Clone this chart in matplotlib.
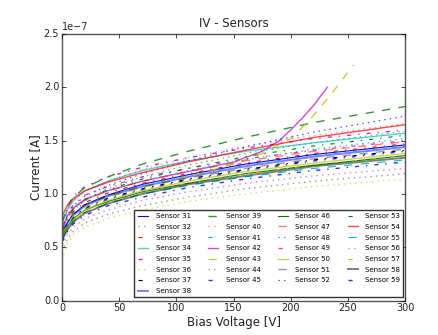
import matplotlib
matplotlib.use("Agg")
import matplotlib.pyplot as plt

plt.style.use('classic')

# bias voltages at which the currents were read
volts = [0, 5, 10, 20, 40, 70, 110, 160, 220, 300]
volts_42 = [0, 5, 10, 20, 40, 70, 110, 150, 175, 190, 200, 210, 220, 232]
volts_43 = [0, 5, 10, 20, 40, 70, 110, 150, 175, 200, 217, 235, 255]

# leakage currents, units of 1e-7 A
s31 = [0.63, 0.74, 0.81, 0.90, 0.99, 1.09, 1.18, 1.28, 1.37, 1.46]
s32 = [0.66, 0.78, 0.86, 0.95, 1.05, 1.16, 1.27, 1.38, 1.48, 1.59]
s33 = [0.66, 0.77, 0.84, 0.92, 1.01, 1.10, 1.19, 1.29, 1.38, 1.47]
s34 = [0.72, 0.86, 0.94, 1.03, 1.12, 1.22, 1.31, 1.40, 1.48, 1.57]
s35 = [0.74, 0.89, 0.98, 1.07, 1.16, 1.25, 1.34, 1.43, 1.52, 1.60]
s36 = [0.38, 0.54, 0.62, 0.69, 0.77, 0.85, 0.93, 1.00, 1.07, 1.14]
s37 = [0.60, 0.71, 0.78, 0.87, 0.96, 1.05, 1.14, 1.23, 1.32, 1.41]
s38 = [0.62, 0.73, 0.80, 0.89, 0.98, 1.07, 1.16, 1.26, 1.35, 1.44]
s39 = [0.74, 0.88, 0.97, 1.06, 1.16, 1.28, 1.40, 1.53, 1.67, 1.82]
s40 = [0.72, 0.86, 0.94, 1.03, 1.12, 1.23, 1.34, 1.45, 1.55, 1.66]
s41 = [0.64, 0.75, 0.82, 0.90, 0.99, 1.08, 1.17, 1.27, 1.36, 1.45]
s42 = [0.68, 0.80, 0.87, 0.95, 1.03, 1.12, 1.21, 1.30, 1.40, 1.50, 1.60, 1.71, 1.83, 2.00]
s43 = [0.62, 0.73, 0.80, 0.88, 0.97, 1.06, 1.16, 1.28, 1.38, 1.52, 1.70, 1.93, 2.21]
s44 = [0.46, 0.58, 0.65, 0.73, 0.81, 0.89, 0.97, 1.05, 1.12, 1.19]
s45 = [0.58, 0.69, 0.77, 0.86, 0.95, 1.04, 1.13, 1.22, 1.31, 1.40]
s46 = [0.60, 0.70, 0.77, 0.85, 0.93, 1.02, 1.10, 1.19, 1.27, 1.36]
s47 = [0.67, 0.78, 0.86, 0.94, 1.03, 1.12, 1.21, 1.31, 1.40, 1.49]
s48 = [0.66, 0.78, 0.85, 0.94, 1.03, 1.12, 1.22, 1.32, 1.42, 1.52]
s49 = [0.70, 0.83, 0.90, 0.99, 1.07, 1.16, 1.24, 1.33, 1.41, 1.50]
s50 = [0.58, 0.69, 0.76, 0.85, 0.94, 1.03, 1.12, 1.21, 1.29, 1.38]
s51 = [0.64, 0.75, 0.82, 0.90, 0.98, 1.07, 1.15, 1.24, 1.33, 1.42]
s52 = [0.68, 0.81, 0.89, 0.98, 1.08, 1.19, 1.31, 1.44, 1.58, 1.73]
s53 = [0.66, 0.78, 0.86, 0.95, 1.04, 1.14, 1.24, 1.35, 1.45, 1.55]
s54 = [0.79, 0.90, 0.96, 1.03, 1.11, 1.20, 1.30, 1.41, 1.53, 1.65]
s55 = [0.58, 0.68, 0.75, 0.83, 0.91, 1.00, 1.08, 1.16, 1.24, 1.32]
s56 = [0.52, 0.62, 0.69, 0.77, 0.85, 0.94, 1.02, 1.10, 1.17, 1.24]
s57 = [0.56, 0.67, 0.74, 0.83, 0.92, 1.01, 1.10, 1.19, 1.27, 1.36]
s58 = [0.57, 0.67, 0.74, 0.82, 0.91, 1.00, 1.09, 1.17, 1.26, 1.34]
s59 = [0.55, 0.65, 0.72, 0.80, 0.89, 0.97, 1.06, 1.14, 1.22, 1.30]

sensors = list(range(31, 60))
currents = [s31, s32, s33, s34, s35, s36, s37, s38, s39, s40, s41, s42, s43, s44, s45,
            s46, s47, s48, s49, s50, s51, s52, s53, s54, s55, s56, s57, s58, s59]

# style per sensor: colour, linestyle, width, alpha
styles = {
    31: ('b', '-', 0.8, 1.0), 32: ('g', ':', 0.9, 0.6), 33: ('r', '-.', 0.8, 1.0),
    34: ('c', '-', 1.0, 0.7), 35: ('m', '-.', 1.0, 0.8), 36: ('y', ':', 0.9, 0.6),
    37: ('k', '-.', 0.8, 1.0), 38: ('b', '-', 1.4, 0.5), 39: ('g', '--', 1.0, 0.8),
    40: ('r', ':', 1.0, 0.4), 41: ('c', '-.', 0.8, 1.0), 42: ('m', '-', 1.0, 0.7),
    43: ('y', '--', 1.0, 0.8), 44: ('k', ':', 1.0, 0.4), 45: ('b', '-.', 1.0, 0.8),
    46: ('g', '-', 0.8, 1.0), 47: ('r', '--', 1.0, 0.5), 48: ('c', ':', 0.8, 1.0),
    49: ('m', '-.', 1.0, 0.7), 50: ('y', '-', 1.0, 0.7), 51: ('k', '--', 1.0, 0.4),
    52: ('b', ':', 0.9, 0.7), 53: ('g', '-.', 0.8, 1.0), 54: ('r', '-', 1.0, 0.7),
    55: ('c', '--', 0.8, 1.0), 56: ('m', ':', 1.0, 0.5), 57: ('y', '-.', 0.8, 1.0),
    58: ('k', '-', 1.4, 0.5), 59: ('b', '-.', 1.0, 0.8),
}

fig = plt.figure(figsize=(4.38, 3.35), dpi=100)
ax = fig.add_axes([0.1416, 0.1024, 0.7831, 0.7961])

for num, cur in zip(sensors, currents):
    if num == 42:
        xv = volts_42
    elif num == 43:
        xv = volts_43
    else:
        xv = volts
    c, ls, lw, al = styles[num]
    ax.plot(xv, [v * 1e-7 for v in cur], color=c, linestyle=ls, linewidth=lw,
            alpha=al, label="Sensor %d" % num)

ax.set_xlim(0, 300)
ax.set_ylim(0, 2.5e-7)
ax.set_title("IV - Sensors", fontsize=8.5, color='#222222')
ax.set_xlabel("Bias Voltage [V]", fontsize=8.5, color='#222222', labelpad=2)
ax.set_ylabel("Current [A]", fontsize=8.5, color='#222222', labelpad=1)
ax.tick_params(labelsize=7, length=3, pad=2, labelcolor='#222222')
ax.yaxis.get_offset_text().set_fontsize(7)
for sp in ax.spines.values():
    sp.set_color('#555555')

leg = ax.legend(loc='lower right', ncol=4, fontsize=5, bbox_to_anchor=(0.994, 0.014),
                borderaxespad=0, labelspacing=0.68, columnspacing=2.2, handlelength=2.0,
                handletextpad=0.8, frameon=True)
leg.get_frame().set_edgecolor('#333333')

fig.savefig("out.png", dpi=100, facecolor='white')
